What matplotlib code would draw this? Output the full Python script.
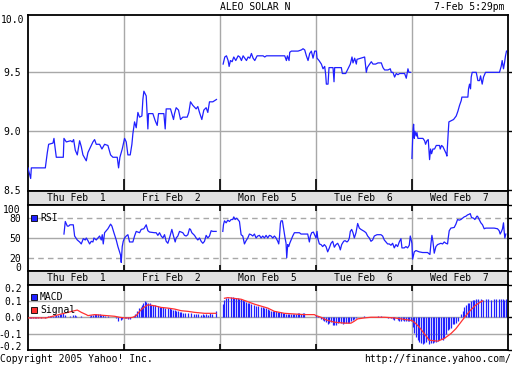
import numpy as np
import matplotlib
matplotlib.use('Agg')
import matplotlib.pyplot as plt
from matplotlib.patches import Rectangle

plt.rcParams['font.family'] = ['DejaVu Sans Mono']
plt.rcParams['axes.unicode_minus'] = False

# time axis: session ticks, 288 per trading day
day_labels = ['Thu Feb  1', 'Fri Feb  2', 'Mon Feb  5', 'Tue Feb  6', 'Wed Feb  7']
ticks_per_day = 288

# price (EUR)
price_t = [0, 8, 10, 52, 58, 62, 75, 78, 80, 85, 106, 108, 115, 128, 133, 137, 142, 148, 155, 160,
           165, 175, 180, 185, 195, 200, 205, 215, 222, 230, 240, 248, 255, 268, 272, 276, 283,
           290, 295, 300, 307, 312, 315, 320, 325, 330, 335, 342, 345, 348, 355, 360, 362, 375, 382,
           388, 392, 408, 412, 415, 428, 437, 440, 445, 452, 458, 465, 478, 483, 488, 495, 505, 510,
           515, 522, 528, 535, 540, 545, 555, 566,
           586, 591, 596, 601, 604, 608, 613, 618, 624, 631, 636, 641, 646, 651, 656, 661, 666, 671,
           676, 681, 688, 706, 711, 716, 751, 771, 776, 779, 784, 786, 791, 811, 821, 826, 831, 836,
           841, 846, 851, 856, 861,
           866, 868, 874, 881, 886, 891, 894, 896, 901, 904, 916, 919, 921, 941, 944, 954, 961, 968,
           973, 976, 981, 986, 988, 1011, 1016, 1019, 1026, 1031, 1036, 1044, 1051, 1061, 1066, 1071,
           1081, 1088, 1091, 1096, 1101, 1106, 1111, 1116, 1126, 1131, 1136, 1141, 1144, 1149,
           1153, 1154, 1156, 1158, 1160, 1162, 1166, 1168, 1171, 1186, 1191, 1194, 1198, 1202, 1206,
           1209, 1212, 1216, 1221, 1226, 1231, 1236, 1238, 1242, 1246, 1251, 1256, 1258, 1262, 1264,
           1271, 1278, 1286, 1291, 1296, 1301, 1303, 1321, 1323, 1326, 1329, 1331, 1334, 1346, 1349,
           1351, 1356, 1359, 1364, 1368, 1374, 1416, 1421, 1424, 1428, 1431, 1434, 1437]
price_v = [8.69, 8.60, 8.69, 8.69, 8.82, 8.89, 8.90, 8.94, 8.89, 8.78, 8.78, 8.94, 8.91, 8.92, 8.91,
           8.93, 8.84, 8.80, 8.92, 8.87, 8.80, 8.75, 8.82, 8.85, 8.91, 8.93, 8.89, 8.89, 8.85, 8.89,
           8.88, 8.80, 8.78, 8.78, 8.69, 8.78, 8.85,
           8.94, 8.91, 8.80, 8.80, 8.89, 8.98, 9.08, 9.03, 9.16, 9.12, 9.13, 9.27, 9.34, 9.30, 9.02,
           9.15, 9.15, 9.09, 9.05, 9.15, 9.15, 9.02, 9.19, 9.19, 9.10, 9.15, 9.20, 9.18, 9.10, 9.12,
           9.12, 9.16, 9.25, 9.22, 9.19, 9.21, 9.16, 9.10, 9.18, 9.20, 9.16, 9.25, 9.25, 9.27,
           9.57, 9.63, 9.64, 9.60, 9.55, 9.60, 9.59, 9.63, 9.60, 9.64, 9.63, 9.60, 9.64, 9.62, 9.60,
           9.63, 9.62, 9.66, 9.62, 9.60, 9.64, 9.64, 9.63, 9.64, 9.64, 9.64, 9.60, 9.64, 9.60, 9.67,
           9.68, 9.68, 9.69, 9.70, 9.69, 9.64, 9.60, 9.66, 9.68, 9.62, 9.68,
           9.68, 9.62, 9.60, 9.57, 9.53, 9.55, 9.48, 9.40, 9.40, 9.54, 9.54, 9.42, 9.54, 9.54, 9.49,
           9.49, 9.53, 9.57, 9.63, 9.58, 9.62, 9.57, 9.61, 9.63, 9.50, 9.54, 9.57, 9.59, 9.57, 9.57,
           9.58, 9.58, 9.54, 9.52, 9.52, 9.53, 9.50, 9.50, 9.46, 9.49, 9.48, 9.49, 9.49, 9.49, 9.45,
           9.53, 9.50, 9.50,
           8.77, 8.85, 9.00, 9.06, 8.94, 9.00, 8.96, 8.99, 8.94, 8.94, 8.92, 8.89, 8.92, 8.93, 8.76,
           8.85, 8.81, 8.85, 8.85, 8.88, 8.88, 8.88, 8.85, 8.88, 8.87, 8.84, 8.81, 8.79, 8.99, 9.08,
           9.09, 9.10, 9.13, 9.17, 9.22, 9.26, 9.29, 9.29, 9.36, 9.40, 9.36, 9.46, 9.50, 9.50, 9.46,
           9.43, 9.43, 9.47, 9.40, 9.46, 9.50, 9.50, 9.55, 9.60, 9.53, 9.58, 9.64, 9.68]

# RSI
rsi_t = [108, 112, 118, 122, 126, 132, 136, 140, 148, 155, 160, 166, 172, 175, 180, 185, 190, 195,
         198, 205, 210, 215, 220, 223, 226, 230, 240, 248, 252, 258, 265, 270, 275, 278, 280, 283,
         286, 290, 295, 300, 305, 315, 320, 325, 330, 335, 340, 348, 355, 360, 365, 380, 385, 390,
         395, 400, 405, 410, 415, 420, 425, 432, 437, 442, 445, 450, 455, 460, 465, 470, 475, 480,
         485, 488, 492, 500, 505, 510, 515, 520, 525, 530, 535, 540, 545, 550, 555, 565,
         585, 587, 590, 595, 600, 605, 610, 615, 618, 622, 626, 630, 635, 638, 640, 645, 650, 655,
         660, 665, 670, 675, 680, 685, 690, 695, 700, 705, 710, 715, 720, 725, 730, 735, 740, 745,
         750, 753, 755, 758, 760, 764, 768, 772, 775, 777, 780, 783, 786, 790, 795, 800, 805, 810,
         815, 820, 825, 830, 835, 840, 845, 848, 852, 857,
         865, 868, 870, 875, 880, 885, 890, 895, 900, 905, 910, 915, 920, 925, 930, 935, 938, 942,
         948, 952, 958, 962, 965, 968, 972, 976, 980, 985, 990, 995, 1000, 1010, 1015, 1020, 1025,
         1030, 1035, 1040, 1048, 1060, 1065, 1070, 1075, 1080, 1085, 1090, 1095, 1100, 1105, 1110,
         1115, 1120, 1123, 1130, 1135, 1140, 1145, 1148,
         1153, 1155, 1160, 1165, 1175, 1185, 1190, 1200, 1207, 1210, 1213, 1216, 1220, 1225, 1230,
         1235, 1240, 1245, 1250, 1255, 1260, 1262, 1265, 1270, 1280, 1285, 1290, 1295, 1300, 1305,
         1310, 1315, 1320, 1325, 1328, 1332, 1338, 1342, 1348, 1350, 1355, 1360, 1365, 1370, 1375,
         1385, 1400, 1410, 1415, 1418, 1422, 1425, 1428, 1430, 1432, 1435, 1440]
rsi_v = [56, 75, 68, 68, 70, 70, 70, 53, 47, 44, 41, 49, 47, 50, 46, 41, 45, 44,
         50, 47, 50, 53, 47, 55, 41, 58, 64, 71, 68, 58, 47, 37, 29, 24, 13, 37,
         45, 50, 53, 55, 44, 44, 53, 60, 59, 58, 63, 64, 70, 61, 59, 58, 58, 54,
         58, 53, 50, 55, 45, 42, 50, 63, 53, 44, 50, 53, 60, 59, 58, 54, 53, 55,
         64, 63, 58, 54, 50, 47, 50, 45, 42, 45, 54, 50, 53, 61, 60, 60,
         60, 70, 76, 73, 77, 75, 78, 78, 82, 78, 80, 78, 75, 63, 55, 53, 41, 46,
         50, 56, 55, 53, 56, 50, 53, 54, 50, 53, 50, 54, 50, 54, 53, 50, 53, 50,
         45, 41, 50, 72, 76, 76, 63, 50, 42, 20, 40, 37, 42, 47, 53, 58, 58, 58,
         58, 56, 56, 56, 56, 56, 44, 53, 58, 59,
         50, 60, 50, 41, 40, 37, 40, 37, 29, 35, 42, 45, 36, 40, 42, 37, 32, 40,
         45, 46, 44, 46, 50, 60, 63, 58, 50, 58, 72, 65, 63, 60, 58, 53, 50,
         45, 47, 53, 55, 55, 53, 47, 44, 41, 41, 39, 42, 35, 40, 37,
         44, 49, 35, 35, 37, 35, 39, 53,
         42, 18, 29, 31, 29, 28, 28, 28, 25, 41, 54, 45, 27, 37, 40,
         41, 42, 41, 44, 42, 41, 50, 61, 65, 66, 71, 78, 77, 78, 80,
         82, 83, 85, 86, 87, 81, 80, 78, 83, 83, 78, 73, 70, 64, 65,
         65, 65, 64, 61, 56, 60, 64, 73, 60, 50, 56, 53]

# MACD bars
macd_t = [5, 10, 15, 20, 25, 30, 40, 50, 55, 60, 65, 70, 75, 80, 85, 90, 95, 100, 105, 110, 125, 135,
          140, 145, 160, 180, 185, 190, 195, 200, 205, 210, 215, 220, 225, 230, 240, 250, 265, 270,
          280, 282,
          290, 295, 300, 305, 318, 322, 328, 332, 338, 342, 346, 350, 355, 360, 365, 370, 375, 380,
          390, 395, 400, 405, 410, 420, 425, 430, 435, 440, 445, 450, 455, 460, 465, 470, 480, 490,
          500, 505, 510, 520, 525, 530, 535, 540, 548, 552, 565,
          585, 590, 595, 600, 610, 615, 620, 625, 630, 635, 640, 645, 650, 655, 660, 665, 670, 680,
          685, 690, 700, 705, 710, 715, 720, 725, 730, 735, 740, 745, 750, 755, 760, 765, 770, 775,
          780, 785, 790, 795, 800, 805, 810, 815, 820, 825, 830,
          865, 870, 880, 885, 890, 895, 900, 905, 910, 915, 920, 925, 930, 935, 940, 945, 950, 955,
          960, 965, 970, 975, 980, 985, 1000, 1010, 1020, 1030, 1040, 1050, 1060, 1080, 1090, 1095,
          1100, 1110, 1115, 1120, 1125, 1130, 1135, 1140, 1145, 1150,
          1155, 1160, 1165, 1170, 1175, 1180, 1185, 1190, 1195, 1200, 1205, 1210, 1215, 1220, 1225,
          1230, 1235, 1240, 1245, 1250, 1255, 1260, 1265, 1270, 1275, 1280, 1285, 1290, 1300, 1305,
          1310, 1315, 1320, 1325, 1330, 1335, 1340, 1345, 1350, 1360, 1365, 1375, 1380, 1390, 1400,
          1405, 1415, 1420, 1425, 1430, 1435]
macd_v = [-0.006, -0.004, -0.006, -0.004, -0.006, -0.004, -0.004, -0.004, 0.004, 0.01, 0.01, 0.01,
          0.01, 0.01, 0.016, 0.016, 0.02, 0.02, 0.024, 0.016, 0.01, 0.016, 0.016, 0.01, 0.01, 0.004,
          0.01, 0.016, 0.016, 0.02, 0.02, 0.02, 0.02, 0.016, 0.016, 0.01, 0.01, 0.004, -0.004,
          -0.024, -0.016, -0.01,
          -0.004, -0.006, -0.01, -0.01, 0.01, 0.02, 0.04, 0.056, 0.064, 0.076, 0.09, 0.10, 0.096,
          0.09, 0.084, 0.076, 0.076, 0.076, 0.07, 0.06, 0.064, 0.06, 0.056, 0.056, 0.056, 0.05,
          0.044, 0.044, 0.04, 0.036, 0.03, 0.03, 0.024, 0.024, 0.024, 0.024, 0.02, 0.02, 0.02,
          0.016, 0.02, 0.016, 0.02, 0.016, 0.024, 0.02, 0.04,
          0.08, 0.104, 0.116, 0.12, 0.124, 0.124, 0.12, 0.116, 0.116, 0.11, 0.11, 0.104, 0.10,
          0.096, 0.09, 0.084, 0.08, 0.076, 0.07, 0.07, 0.06, 0.06, 0.056, 0.056, 0.05, 0.044, 0.04,
          0.04, 0.036, 0.036, 0.03, 0.03, 0.03, 0.024, 0.024, 0.02, 0.02, 0.02, 0.02, 0.02, 0.02,
          0.02, 0.024, 0.024, 0.02, 0.024, 0.024,
          0.016, 0.01, -0.01, -0.016, -0.02, -0.03, -0.044, -0.036, -0.03, -0.05, -0.05, -0.05,
          -0.036, -0.03, -0.036, -0.04, -0.036, -0.036, -0.036, -0.036, -0.024, -0.016, -0.01,
          -0.004, 0.004, 0.01, 0.004, 0.004, 0.004, 0.006, 0.006, -0.004, -0.004, -0.01, -0.016,
          -0.016, -0.024, -0.02, -0.016, -0.02, -0.024, -0.024, -0.02, -0.024,
          -0.06, -0.096, -0.12, -0.136, -0.15, -0.16, -0.164, -0.16, -0.15, -0.14, -0.164, -0.16,
          -0.156, -0.15, -0.15, -0.144, -0.136, -0.13, -0.14, -0.124, -0.10, -0.076, -0.07, -0.064,
          -0.04, -0.04, -0.036, -0.02, 0.02, 0.04, 0.06, 0.076, 0.084, 0.09, 0.10, 0.104, 0.104,
          0.11, 0.11, 0.11, 0.104, 0.11, 0.11, 0.104, 0.11, 0.11, 0.11, 0.11, 0.11, 0.104, 0.11]

# MACD signal line
signal_t = [0, 55, 100, 148, 160, 175, 180, 200, 260, 275, 290, 305, 315, 325, 335, 345, 360, 380,
            400, 420, 440, 460, 480, 500, 530, 550, 565,
            590, 600, 640, 680, 720, 740, 770, 800, 830, 860,
            865, 880, 895, 920, 950, 970, 980, 990, 1010, 1030, 1070, 1100, 1120, 1140, 1153,
            1160, 1175, 1190, 1205, 1230, 1250, 1270, 1285, 1300, 1315, 1330, 1345, 1365, 1440]
signal_v = [-0.004, -0.004, 0.02, 0.044, 0.03, 0.016, 0.01, 0.016, 0.006, 0.0, -0.004, -0.004, 0.0,
            0.01, 0.036, 0.056, 0.076, 0.07, 0.06, 0.056, 0.05, 0.04, 0.036, 0.03, 0.024, 0.024,
            0.024,
            0.116, 0.12, 0.11, 0.08, 0.056, 0.036, 0.024, 0.02, 0.016, 0.016,
            0.01, 0.0, -0.016, -0.03, -0.036, -0.036, -0.024, -0.01, -0.004, 0.0, 0.0, -0.004,
            -0.01, -0.016, -0.02,
            -0.03, -0.06, -0.10, -0.14, -0.146, -0.13, -0.10, -0.07, -0.03, 0.01, 0.045, 0.075,
            0.10, 0.10]

BLUE = '#2020ff'
RED = '#ff3030'
GRID = '#a8a8a8'
BAND = '#e0e0e0'
W, H = 512, 365
FS = 7

fig = plt.figure(figsize=(W / 100, H / 100), dpi=100)
fig.patch.set_facecolor('white')


def px_axes(x0, y0, x1, y1):
    return fig.add_axes([x0 / W, 1 - y1 / H, (x1 - x0) / W, (y1 - y0) / H])


X0, X1 = 28, 507.5
ax_p = px_axes(X0, 15, X1, 191)
band1 = px_axes(X0, 191, X1, 205)
ax_r = px_axes(X0, 205, X1, 271)
band2 = px_axes(X0, 271, X1, 284.5)
ax_m = px_axes(X0, 284.5, X1, 350)

n_days = len(day_labels)
bounds = [ticks_per_day * i for i in range(1, n_days)]


def split_by_days(t, v, groups):
    t = np.asarray(t, float)
    v = np.asarray(v, float)
    day = t // ticks_per_day
    for d0, d1 in groups:
        m = (day >= d0) & (day < d1)
        yield t[m], v[m]


def style_panel(ax, ylim, yticks, ylabels, tick_len, top=True, pad=2.2):
    ax.set_xlim(0, ticks_per_day * n_days)
    ax.set_ylim(*ylim)
    for b in bounds:
        ax.axvline(b, color=GRID, lw=1.0, zorder=1)
    ax.set_xticks(bounds)
    ax.tick_params(axis='x', direction='in', top=top, bottom=True, length=tick_len,
                   width=1.2, labelbottom=False)
    ax.set_yticks(yticks, ylabels)
    ax.tick_params(axis='y', left=False, right=True, direction='out', length=3, width=1,
                   labelleft=True, labelsize=FS, pad=pad)
    for s in ax.spines.values():
        s.set_linewidth(1.3)


# price panel
price_lim = (8.494, 9.986)
style_panel(ax_p, price_lim, [8.5, 9.0, 9.5], ['8.5', '9.0', '9.5'], 8.5, top=False)
for lvl in [9.0, 9.5]:
    ax_p.axhline(lvl, color=GRID, lw=1.0, zorder=1)
ax_p.text(-3.5 / (X1 - X0), price_lim[1], '10.0', transform=ax_p.get_yaxis_transform(),
          ha='right', va='top', fontsize=FS)
for tt, vv in split_by_days(price_t, price_v, [(0, 2), (2, 4), (4, 5)]):
    ax_p.plot(tt, vv, color=BLUE, lw=0.9, zorder=3)

# RSI panel
style_panel(ax_r, (0, 100), [0, 20, 50, 80, 100], ['0', '20', '50', '80', '100'], 4.5)
ax_r.axhline(50, color=GRID, lw=1.0, zorder=1)
for lvl in [20, 80]:
    ax_r.axhline(lvl, color=GRID, lw=1.0, ls=(0, (4, 3)), zorder=1)
labs = ax_r.get_yticklabels()
labs[0].set_va('baseline')
labs[-1].set_va('top')
for tt, vv in split_by_days(rsi_t, rsi_v, [(0, 2), (2, 5)]):
    ax_r.plot(tt, vv, color=BLUE, lw=0.9, zorder=3)

# MACD panel
style_panel(ax_m, (-0.2, 0.2), [-0.2, -0.1, 0.0, 0.1, 0.2],
            ['-0.2', '-0.1', '0.0', '0.1', '0.2'], 4.5, pad=1.4)
for lvl in [-0.1, 0.0, 0.1]:
    ax_m.axhline(lvl, color=GRID, lw=1.0, zorder=1)
labs = ax_m.get_yticklabels()
labs[0].set_va('baseline')
labs[-1].set_va('top')
ax_m.vlines(macd_t, 0, macd_v, color=BLUE, lw=0.9, zorder=2)
for tt, vv in split_by_days(signal_t, signal_v, [(0, 2), (2, 5)]):
    ax_m.plot(tt, vv, color=RED, lw=0.9, zorder=3)

# day label bands
for band in [band1, band2]:
    band.set_facecolor(BAND)
    band.set_xlim(0, ticks_per_day * n_days)
    band.set_ylim(0, 1)
    band.set_xticks([])
    band.set_yticks([])
    for s in band.spines.values():
        s.set_linewidth(1.3)
    for i, lab in enumerate(day_labels):
        band.text(ticks_per_day * (i + 0.5), 0.5, lab, ha='center', va='center', fontsize=FS)


# legends
def legend_item(x, y, color, label):
    fig.add_artist(Rectangle((x / W, 1 - (y + 3) / H), 6 / W, 6 / H, transform=fig.transFigure,
                             facecolor=color, edgecolor='black', lw=0.6, zorder=5))
    fig.text((x + 9) / W, 1 - y / H, label, ha='left', va='center', fontsize=FS, zorder=5)


legend_item(31, 218, BLUE, 'RSI')
legend_item(31, 297, BLUE, 'MACD')
legend_item(31, 310, RED, 'Signal')

# header and footer
fig.text(255.5 / W, 1 - 7.5 / H, 'ALEO SOLAR N', ha='center', va='center', fontsize=FS)
fig.text(505 / W, 1 - 7.5 / H, '7-Feb 5:29pm', ha='right', va='center', fontsize=FS)
fig.text(0.5 / W, 1 - 359 / H, 'Copyright 2005 Yahoo! Inc.', ha='left', va='center', fontsize=FS)
fig.text(511 / W, 1 - 359 / H, 'http://finance.yahoo.com/', ha='right', va='center', fontsize=FS)

fig.savefig('out.png', dpi=100)
